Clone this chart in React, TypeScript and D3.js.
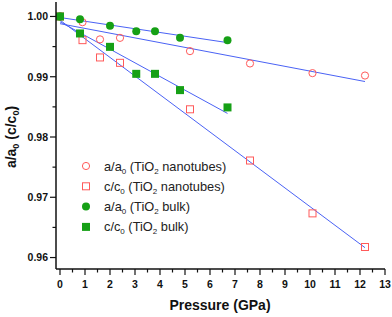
import React from 'react';
import * as d3 from 'd3';

// pressure (GPa)
const pressureNano = [0, 0.9, 1.6, 2.4, 5.2, 7.6, 10.1, 12.2];
const aNano = [1.0, 0.99905, 0.9962, 0.99645, 0.99425, 0.9922, 0.9906, 0.9902];
const cNano = [1.0, 0.99607, 0.9932, 0.99231, 0.9846, 0.9761, 0.96733, 0.96175];

const pressureBulk = [0, 0.8, 2.0, 3.05, 3.8, 4.8, 6.7];
const aBulk = [1.0, 0.99955, 0.99845, 0.99756, 0.99756, 0.99645, 0.99607];
const cBulk = [1.0, 0.99718, 0.99496, 0.99048, 0.99048, 0.98778, 0.98491];

const xTicks = d3.range(0, 14);
const yTicks = [0.96, 0.97, 0.98, 0.99, 1.0];

const RED = '#ff5a5a';
const GREEN = '#16a016';
const BLUE = '#4a62f5';

// least squares fit, like the linear fits in the original
const fit = (xs: number[], ys: number[]) => {
  const mx = d3.mean(xs)!;
  const my = d3.mean(ys)!;
  const sxy = d3.sum(xs, (x, i) => (x - mx) * (ys[i] - my));
  const sxx = d3.sum(xs, (x) => (x - mx) ** 2);
  const slope = sxy / sxx;
  return { slope, intercept: my - slope * mx };
};

const series = [
  { label: 'a/a', sub: 'nanotubes', xs: pressureNano, ys: aNano, shape: 'circle', fill: false },
  { label: 'c/c', sub: 'nanotubes', xs: pressureNano, ys: cNano, shape: 'square', fill: false },
  { label: 'a/a', sub: 'bulk', xs: pressureBulk, ys: aBulk, shape: 'circle', fill: true },
  { label: 'c/c', sub: 'bulk', xs: pressureBulk, ys: cBulk, shape: 'square', fill: true },
];

const Marker = ({ x, y, shape, fill }: any) => {
  const color = fill ? GREEN : RED;
  if (shape === 'circle') {
    return fill
      ? <circle cx={x} cy={y} r={4} fill={color} />
      : <circle cx={x} cy={y} r={3.6} fill="none" stroke={color} strokeWidth={1} />;
  }
  return fill
    ? <rect x={x - 4} y={y - 4} width={8} height={8} fill={color} />
    : <rect x={x - 3.5} y={y - 3.5} width={7} height={7} fill="none" stroke={color} strokeWidth={1} />;
};

export default function App() {
  const width = 392;
  const height = 317;
  const x = d3.scaleLinear().domain([-0.16, 13]).range([56, 385]);
  const y = d3.scaleLinear().domain([0.9581, 1.0024]).range([269, 2]);
  const font = 'Arial, "Liberation Sans", sans-serif';

  const xMinor = d3.range(0.5, 13, 1);
  const yMinor = [0.965, 0.975, 0.985, 0.995];

  return (
    <svg width={width} height={height} style={{ position: 'absolute', left: 0, top: 0 }} fontFamily={font}>
      <rect width={width} height={height} fill="white" />

      {/* fit lines */}
      {series.map((s, i) => {
        const f = fit(s.xs, s.ys);
        const x0 = 0;
        const x1 = d3.max(s.xs)!;
        return (
          <line key={'f' + i} x1={x(x0)} y1={y(f.intercept + f.slope * x0)}
            x2={x(x1)} y2={y(f.intercept + f.slope * x1)} stroke={BLUE} strokeWidth={1} />
        );
      })}

      {/* points */}
      {series.map((s, i) => (
        <g key={'p' + i}>
          {s.xs.map((px, j) => (
            <Marker key={j} x={x(px)} y={y(s.ys[j])} shape={s.shape} fill={s.fill} />
          ))}
        </g>
      ))}

      {/* axes */}
      <line x1={56} y1={269} x2={385} y2={269} stroke="#111" strokeWidth={1.5} />
      <line x1={56} y1={2} x2={56} y2={269} stroke="#111" strokeWidth={1.5} />
      {xTicks.map((t) => (
        <g key={'xt' + t}>
          <line x1={x(t)} x2={x(t)} y1={269} y2={275} stroke="#111" strokeWidth={1.2} />
          <text x={x(t)} y={288} fontSize={10.5} fontWeight="bold" textAnchor="middle" fill="#111">{t}</text>
        </g>
      ))}
      {xMinor.map((t) => (
        <line key={'xm' + t} x1={x(t)} x2={x(t)} y1={269} y2={272.5} stroke="#111" strokeWidth={1.2} />
      ))}
      {yTicks.map((t) => (
        <g key={'yt' + t}>
          <line x1={50} x2={56} y1={y(t)} y2={y(t)} stroke="#111" strokeWidth={1.2} />
          <text x={48} y={y(t) + 3.8} fontSize={10.5} fontWeight="bold" textAnchor="end" fill="#111">{t.toFixed(2)}</text>
        </g>
      ))}
      {yMinor.map((t) => (
        <line key={'ym' + t} x1={52.5} x2={56} y1={y(t)} y2={y(t)} stroke="#111" strokeWidth={1.2} />
      ))}

      {/* axis titles */}
      <text x={220} y={310} fontSize={14} fontWeight="bold" textAnchor="middle" fill="#111">Pressure (GPa)</text>
      <text transform="translate(16,137) rotate(-90)" fontSize={14} fontWeight="bold" textAnchor="middle" fill="#111">
        a/a<tspan fontSize={9} dy={3}>0</tspan><tspan dy={-3}> (c/c</tspan><tspan fontSize={9} dy={3}>0</tspan><tspan dy={-3}>)</tspan>
      </text>

      {/* legend */}
      {series.map((s, i) => {
        const ly = 166 + i * 20.3;
        return (
          <g key={'l' + i}>
            <Marker x={86} y={ly} shape={s.shape} fill={s.fill} />
            <text x={104} y={ly + 4.5} fontSize={12.8} fill="#222">
              {s.label}<tspan fontSize={8} dy={3}>0</tspan><tspan dy={-3}> (TiO</tspan><tspan fontSize={8} dy={3}>2</tspan><tspan dy={-3}> {s.sub})</tspan>
            </text>
          </g>
        );
      })}
    </svg>
  );
}
